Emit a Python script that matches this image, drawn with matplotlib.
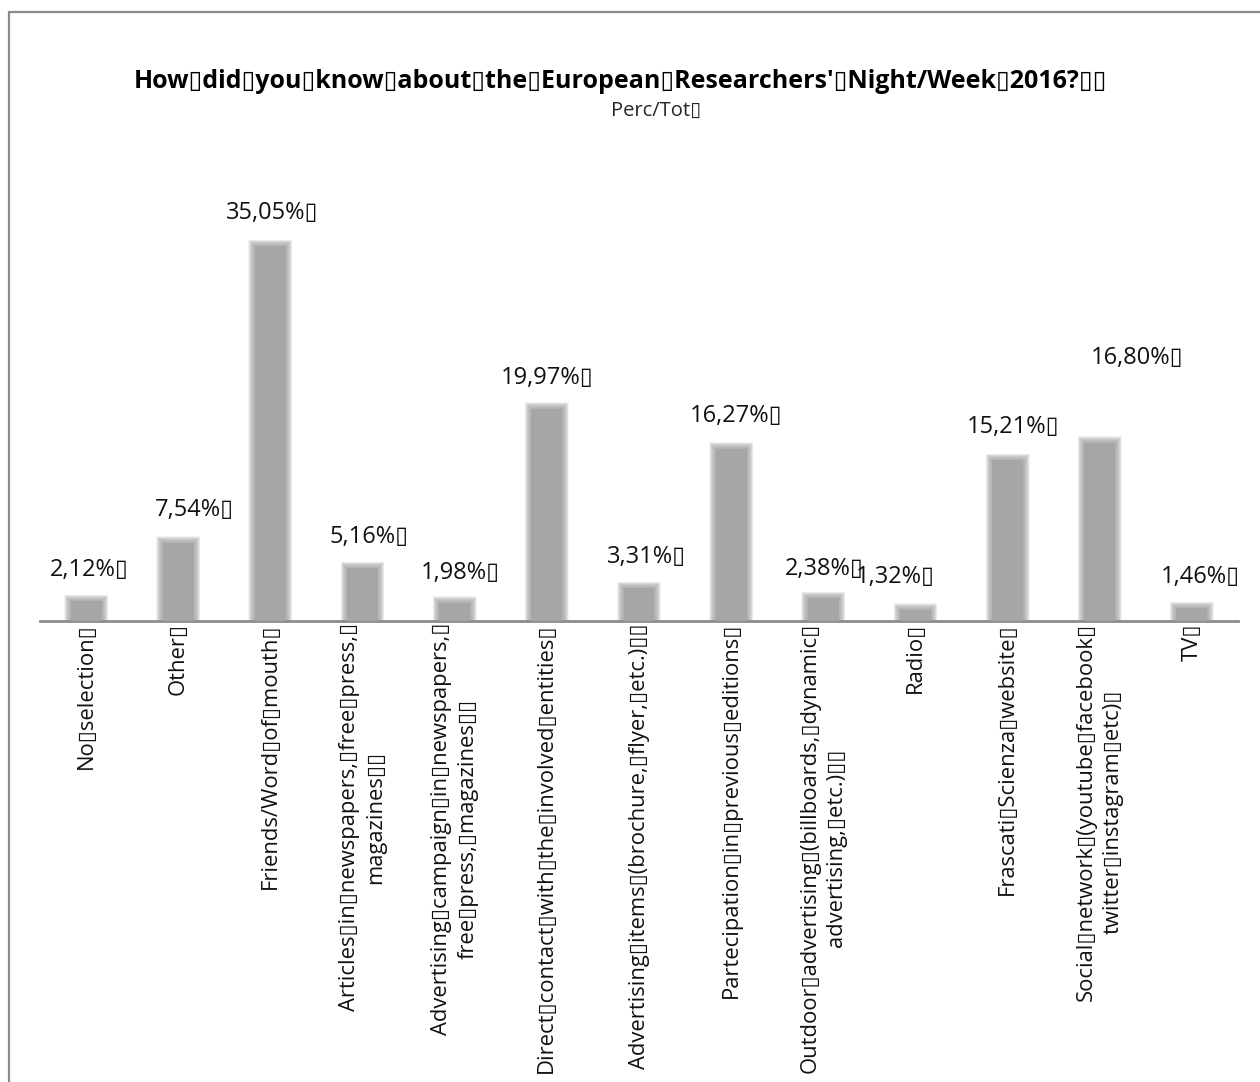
import matplotlib
matplotlib.use("Agg")
import matplotlib.pyplot as plt
from matplotlib.patches import Rectangle

BOX = "\u25af"  # placeholder glyph that stands in for the spaces

plt.rcParams['font.family'] = ['Open Sans', 'DejaVu Sans']

categories = [
    "No selection ",
    "Other ",
    "Friends/Word of mouth ",
    "Articles in newspapers, free press, \nmagazines  ",
    "Advertising campaign in newspapers, \nfree press, magazines  ",
    "Direct contact with the involved entities ",
    "Advertising items (brochure, flyer, etc.)  ",
    "Partecipation in previous editions ",
    "Outdoor advertising (billboards, dynamic \nadvertising, etc.)  ",
    "Radio ",
    "Frascati Scienza website ",
    "Social network (youtube facebook \ntwitter instagram etc) ",
    "TV ",
]
perc = [2.12, 7.54, 35.05, 5.16, 1.98, 19.97, 3.31, 16.27, 2.38, 1.32, 15.21, 16.80, 1.46]

# hand-placed nudges of the value labels, in pixels
label_dx = [3, 16, 2, 7, 6, 0, 7, 5, 1, -20, 6, 37, 8]
label_dy = [28, 30, 30, 28, 27, 28, 28, 30, 26, 30, 30, 82, 28]

W, H = 1260, 1082
fig = plt.figure(figsize=(W / 100, H / 100), dpi=100)

# outer chart frame
fig.patches.append(Rectangle((8.5 / W, -0.01), 1.1, 1 - 12 / H + 0.01,
                             transform=fig.transFigure, fill=False,
                             edgecolor='#8c8c8c', linewidth=1.6))

ymax = 40.0
base_px = 621
px_per_unit = 10.78
ax_h = ymax * px_per_unit
ax = fig.add_axes([40 / W, (H - base_px) / H, 1198 / W, ax_h / H])

x = list(range(len(perc)))
bar_color = '#a6a6a6'
bw = 0.40
xpx = 1198 / 13.0

# soft-edged bars: a solid core with many faint layers fading outwards
ax.bar(x, [v - 3 / px_per_unit for v in perc], width=bw - 6 / xpx,
       color=bar_color, linewidth=0, zorder=3)
for i in range(13):
    e = 3.5 - 0.5 * i
    ax.bar(x, [v + e / px_per_unit for v in perc], width=bw + 2 * e / xpx,
           color=bar_color, alpha=0.13, linewidth=0, zorder=2)

for xi, v, dx, dy in zip(x, perc, label_dx, label_dy):
    txt = f"{v:.2f}".replace('.', ',') + '%' + BOX
    ax.annotate(txt, (xi, v), xytext=(dx, dy), textcoords='offset pixels',
                ha='center', va='center', fontsize=17, color='#111111')

ax.set_xlim(-0.5, 12.5)
ax.set_ylim(0, ymax)
for s in ['top', 'right', 'left']:
    ax.spines[s].set_visible(False)
ax.spines['bottom'].set_color('#8c8c8c')
ax.spines['bottom'].set_linewidth(2)
ax.set_yticks([])
ax.set_xticks(x)
ax.set_xticklabels([c.replace(' ', BOX) for c in categories], rotation=90,
                   ha='center', va='top', multialignment='center',
                   fontsize=15.8, color='#111111', linespacing=1.35)
ax.tick_params(axis='x', length=0, pad=1.5)
ax.patch.set_visible(False)

fig.text(620 / W, 1 - 82 / H,
         "How did you know about the European Researchers' Night/Week 2016?  ".replace(' ', BOX),
         ha='center', va='center', fontsize=18, fontweight='bold', color='#000000')
fig.text(656 / W, 1 - 111 / H, "Perc/Tot" + BOX, ha='center', va='center',
         fontsize=14.5, color='#262626')

fig.savefig('out.png', dpi=100)
